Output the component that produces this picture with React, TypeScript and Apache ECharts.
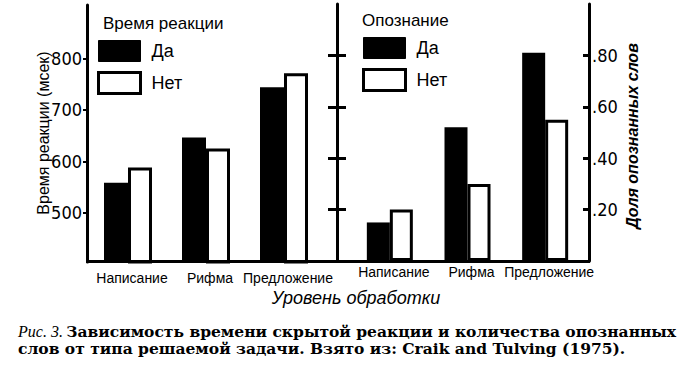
import React, { useEffect, useRef } from "react";
import * as echarts from "echarts";

const categories = ["Написание", "Рифма", "Предложение"];
const rtYes = [558, 646, 744];
const rtNo = [588, 625, 771];
const recYes = [0.15, 0.52, 0.81];
const recNo = [0.2, 0.3, 0.55];
const rtTicks = [500, 600, 700, 800];
const recTicks = [0.2, 0.4, 0.6, 0.8];

const NARROW = '"Liberation Sans Narrow", "DejaVu Sans Condensed", "Liberation Sans", sans-serif';
const SANS = '"Liberation Sans", Arial, sans-serif';

export default function App() {
  const ref = useRef<HTMLDivElement>(null);
  useEffect(() => {
    if (!ref.current) return;
    const chart = echarts.init(ref.current, null, { renderer: "svg" });
    const catLabel = {
      interval: 0,
      fontSize: 14,
      fontFamily: SANS,
      color: "#000",
      formatter: (v: string) => "{a|" + v + "}",
      rich: { a: { fontSize: 14, fontFamily: SANS, color: "#000", padding: [0, 0, 0, 8] } },
    };
    const legendData = [
      { name: "Да", icon: "rect", itemStyle: { color: "#000", borderColor: "#000", borderWidth: 1 } },
      { name: "Нет", icon: "rect", itemStyle: { color: "#fff", borderColor: "#000", borderWidth: 3 } },
    ];
    const legendCommon = {
      orient: "vertical",
      icon: "rect",
      itemWidth: 42,
      itemHeight: 21,
      itemGap: 9,
      padding: 0,
      selectedMode: false,
      textStyle: { fontSize: 18, fontFamily: SANS, color: "#000", padding: [0, 0, 0, 6] },
      data: legendData,
    };
    chart.setOption({
      animation: false,
      backgroundColor: "#fff",
      grid: [
        { left: 89, top: 5, width: 234, height: 257 },
        { left: 351, top: 4, width: 233, height: 257 },
      ],
      legend: [
        { ...legendCommon, left: 97, top: 40 },
        { ...legendCommon, left: 362, top: 37 },
      ],
      xAxis: [
        {
          type: "category", gridIndex: 0, data: categories,
          axisLine: { show: false }, axisTick: { show: false },
          axisLabel: { ...catLabel, margin: 9 },
        },
        {
          type: "category", gridIndex: 1, data: categories,
          axisLine: { show: false }, axisTick: { show: false },
          axisLabel: { ...catLabel, margin: 4 },
        },
      ],
      yAxis: [
        {
          type: "value", gridIndex: 0, min: 404, max: 904, position: "left", offset: 2,
          splitLine: { show: false },
          axisLine: { show: true, lineStyle: { color: "#000", width: 3 } },
          axisTick: { show: true, customValues: rtTicks, length: 4, lineStyle: { color: "#000", width: 2 } },
          axisLabel: { customValues: rtTicks, margin: 5, fontSize: 18, fontFamily: NARROW, color: "#000" },
        },
        {
          type: "value", gridIndex: 1, min: 0, max: 1, position: "left", offset: 14,
          splitLine: { show: false },
          axisLine: { show: true, lineStyle: { color: "#000", width: 3 } },
          axisTick: { show: true, inside: true, customValues: recTicks, length: 9, lineStyle: { color: "#000", width: 3 } },
          axisLabel: { show: false },
        },
        {
          type: "value", gridIndex: 1, min: 0, max: 1, position: "left", offset: 14,
          splitLine: { show: false },
          axisLine: { show: false },
          axisTick: { show: true, inside: false, customValues: recTicks, length: 9, lineStyle: { color: "#000", width: 3 } },
          axisLabel: { show: false },
        },
        {
          type: "value", gridIndex: 1, min: 0, max: 1, position: "right", offset: 5,
          splitLine: { show: false },
          axisLine: { show: true, lineStyle: { color: "#000", width: 3 } },
          axisTick: { show: true, inside: true, customValues: recTicks, length: 6, lineStyle: { color: "#000", width: 3 } },
          axisLabel: {
            customValues: recTicks, margin: 3, fontSize: 18, fontFamily: NARROW, color: "#000",
            formatter: (v: number) => v.toFixed(2).replace(/^0/, ""),
          },
        },
      ],
      series: [
        {
          name: "Да", type: "bar", xAxisIndex: 0, yAxisIndex: 0, data: rtYes,
          barWidth: 24, barGap: "0%", itemStyle: { color: "#000" },
        },
        {
          name: "Нет", type: "bar", xAxisIndex: 0, yAxisIndex: 0, data: rtNo,
          barWidth: 24, barGap: "0%", itemStyle: { color: "#fff", borderColor: "#000", borderWidth: 3 },
        },
        {
          name: "Да", type: "bar", xAxisIndex: 1, yAxisIndex: 1, data: recYes,
          barWidth: 23, barGap: "0%", itemStyle: { color: "#000" },
        },
        {
          name: "Нет", type: "bar", xAxisIndex: 1, yAxisIndex: 1, data: recNo,
          barWidth: 23, barGap: "0%", itemStyle: { color: "#fff", borderColor: "#000", borderWidth: 3 },
        },
      ],
      graphic: [
        {
          type: "line", z: 10,
          shape: { x1: 86, y1: 261.5, x2: 590, y2: 261.5 },
          style: { stroke: "#000", lineWidth: 3 },
        },
        {
          type: "text", left: 103, top: 15,
          style: { text: "Время реакции", fontSize: 17, fontFamily: SANS, fill: "#000" },
        },
        {
          type: "text", left: 362, top: 12,
          style: { text: "Опознание", fontSize: 17, fontFamily: SANS, fill: "#000" },
        },
        {
          type: "text", x: 43, y: 133, rotation: Math.PI / 2,
          style: {
            text: "Время реакции (мсек)", fontSize: 16, fontFamily: SANS,
            fill: "#000", align: "center", verticalAlign: "middle",
          },
        },
        {
          type: "text", x: 632, y: 136, rotation: Math.PI / 2,
          style: {
            text: "Доля опознанных слов", fontSize: 16, fontStyle: "italic", fontWeight: "bold",
            fontFamily: SANS, fill: "#000", align: "center", verticalAlign: "middle",
          },
        },
        {
          type: "text", x: 356, y: 298,
          style: {
            text: "Уровень обработки", fontSize: 18, fontStyle: "italic", fontFamily: SANS,
            fill: "#000", align: "center", verticalAlign: "middle",
          },
        },
        {
          type: "text", x: 18, y: 331,
          style: {
            text: "{a|Рис. 3.} {b|Зависимость времени скрытой реакции и количества опознанных}",
            verticalAlign: "middle",
            lineHeight: 15,
            rich: {
              a: { fontSize: 16, lineHeight: 15, fontStyle: "italic", fontFamily: '"Liberation Serif", serif', fill: "#000" },
              b: { fontSize: 15.5, lineHeight: 15, fontWeight: "bold", fontFamily: '"DejaVu Serif", serif', fill: "#000" },
            },
          },
        },
        {
          type: "text", x: 18, y: 348,
          style: {
            text: "слов от типа решаемой задачи. Взято из: Craik and Tulving (1975).",
            verticalAlign: "middle",
            lineHeight: 15,
            fontSize: 15.5, fontWeight: "bold", fontFamily: '"DejaVu Serif", serif', fill: "#000",
          },
        },
      ],
    });
    return () => chart.dispose();
  }, []);
  return (
    <div
      ref={ref}
      style={{ position: "fixed", left: 0, top: 0, width: 700, height: 370, background: "#fff" }}
    />
  );
}
